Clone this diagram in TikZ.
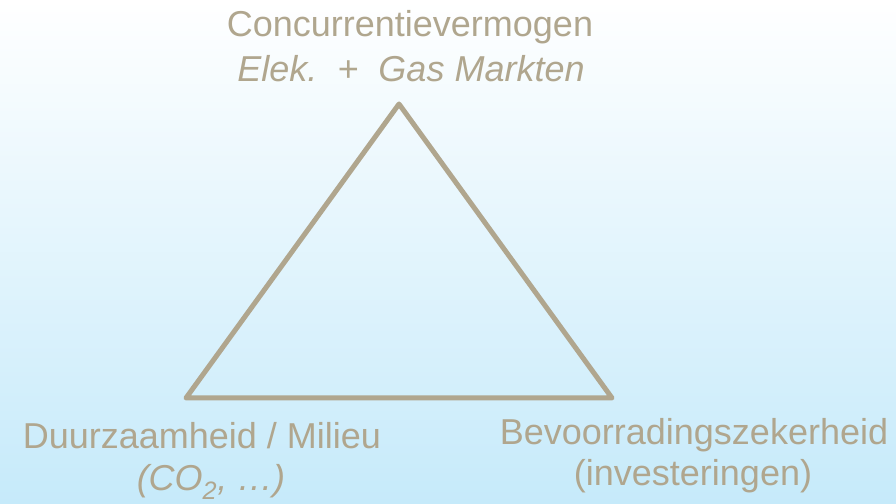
\documentclass[tikz,border=0pt]{standalone}
\usepackage{fontspec}
\setmainfont{Liberation Sans}
\definecolor{taupe}{RGB}{176,166,142}
\definecolor{bgblue}{RGB}{198,234,250}
\begin{document}
\begin{tikzpicture}[x=1pt,y=1pt,
  lbl/.style={text=taupe,anchor=base,inner sep=0pt,font=\fontsize{36}{43}\selectfont},
  ilbl/.style={lbl,font=\fontsize{36}{43}\selectfont\itshape},
  tri/.style={draw=taupe,line width=5pt,line join=round}]
\shade[top color=white,bottom color=bgblue] (0,0) rectangle (896,503);
\useasboundingbox (0,0) rectangle (896,503);
\coordinate (apex) at (399,399);
\coordinate (left) at (186,105);
\coordinate (right) at (612,105);
\draw[tri] (apex) -- (left) -- (right) -- cycle;
\node[lbl] (top1) at (410,466) {Concurrentievermogen};
\node[ilbl] (top2) at (411,421) {Elek.\ \ + \ Gas Markten};
\node[lbl] (bl1) at (202,54) {Duurzaamheid / Milieu};
\node[ilbl] (bl2) at (211,13) {(CO\textsubscript{2}, …)};
\node[lbl] (br1) at (694,58) {Bevoorradingszekerheid};
\node[lbl] (br2) at (693,18) {(investeringen)};
\end{tikzpicture}
\end{document}
